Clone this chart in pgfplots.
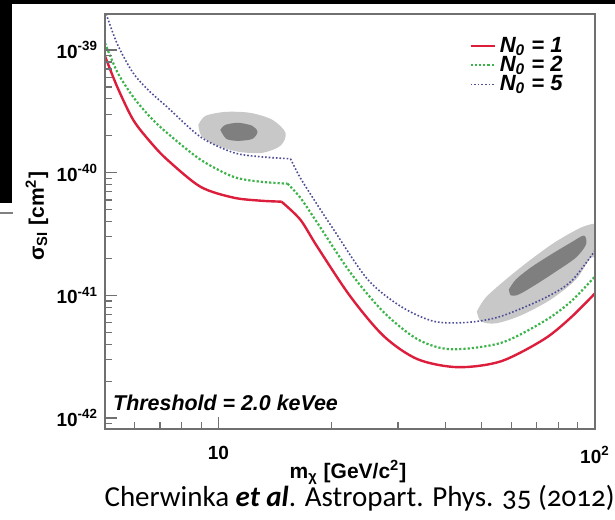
\documentclass[border=0pt]{standalone}
\usepackage{pgfplots}
\pgfplotsset{compat=1.18}
\usepackage{fontspec}
\setmainfont{Liberation Sans}
\newfontfamily\citefont[Numbers=OldStyle]{Carlito}

\definecolor{nred}{HTML}{DC1E3C}
\definecolor{ngreen}{HTML}{3CB44B}
\definecolor{nblue}{HTML}{4B4B96}
\definecolor{blobl}{HTML}{C8C8C8}
\definecolor{blobd}{HTML}{7F7F7F}
\definecolor{framec}{HTML}{707070}

\begin{document}
\begin{tikzpicture}
\path[use as bounding box] (-52.5pt,-45pt) rectangle (255pt,214.5pt);
\begin{axis}[
    at={(0,0)}, anchor=south west,
    scale only axis, width=245pt, height=207.5pt,
    xmode=log, ymode=log,
    xmin=5, xmax=100, ymin=8.14e-43, ymax=1.966e-39,
    axis on top,
    axis line style={framec, line width=0.9pt},
    tick align=inside, xtick pos=bottom, ytick pos=left,
    major tick length=6pt, minor tick length=3.5pt,
    every tick/.style={framec, line width=0.6pt},
    xtick={10,100},
    xticklabels={\textbf{10},\textbf{10\textsuperscript{2}}},
    minor xtick={6,7,8,9,20,30,40,50,60,70,80,90},
    ytick={1e-42,1e-41,1e-40,1e-39},
    yticklabels={\textbf{10\textsuperscript{-42}},\textbf{10\textsuperscript{-41}},\textbf{10\textsuperscript{-40}},\textbf{10\textsuperscript{-39}}},
    minor ytick={9e-43,2e-42,3e-42,4e-42,5e-42,6e-42,7e-42,8e-42,9e-42,
                 2e-41,3e-41,4e-41,5e-41,6e-41,7e-41,8e-41,9e-41,
                 2e-40,3e-40,4e-40,5e-40,6e-40,7e-40,8e-40,9e-40},
    tick label style={font=\fontsize{9.5}{11}\selectfont},
    xticklabel style={yshift=-5pt},
    xlabel={\bfseries m\textsubscript{χ} [GeV/c\textsuperscript{2}]},
    ylabel={\bfseries σ\textsubscript{SI} [cm\textsuperscript{2}]},
    label style={font=\fontsize{10.5}{12}\selectfont},
    xlabel style={at={(axis description cs:0.496,-0.104)}, anchor=center},
    ylabel style={at={(axis description cs:-0.139,0.513)}, anchor=center},
    legend style={draw=none, fill=none, at={(axis description cs:0.955,0.965)},
        anchor=north east, font=\fontsize{11}{12}\selectfont\bfseries\itshape,
        row sep=-3.5pt, cells={anchor=west}},
    legend image code/.code={\draw[#1] (0pt,0pt) -- (12pt,0pt);},
]
% allowed regions
\addplot[fill=blobl, draw=none, smooth, forget plot] coordinates {
  (8.85,2.455e-40) (9.235,2.904e-40) (10.44,3.133e-40) (12.16,3.076e-40)
  (13.92,2.698e-40) (15.08,2.113e-40) (14.62,1.660e-40) (13.09,1.455e-40)
  (11.30,1.483e-40) (9.82,1.690e-40) (9.01,2.0e-40) (8.85,2.455e-40)} -- cycle;
\addplot[fill=blobd, draw=none, smooth, forget plot] coordinates {
  (10.12,2.239e-40) (10.44,2.455e-40) (11.30,2.553e-40) (12.31,2.410e-40)
  (12.70,2.153e-40) (12.31,1.888e-40) (11.30,1.820e-40) (10.50,1.888e-40)
  (10.12,2.239e-40)} -- cycle;
\addplot[fill=blobl, draw=none, smooth, forget plot] coordinates {
  (48.56,7.41e-42) (51.31,9.64e-42) (57.99,1.349e-41) (67.57,1.963e-41)
  (78.78,2.748e-41) (91.80,3.573e-41) (100,3.85e-41) (104,3.7e-41)
  (104,2.0e-41) (97.59,2.037e-41) (89.03,1.349e-41) (76.38,9.27e-42)
  (63.56,6.87e-42) (54.55,5.92e-42) (49.77,6.15e-42) (48.56,7.41e-42)} -- cycle;
\addplot[fill=blobd, draw=none, smooth, forget plot] coordinates {
  (59.06,1.119e-41) (61.66,1.349e-41) (67.57,1.690e-41) (76.38,2.153e-41)
  (86.35,2.698e-41) (93.48,3.076e-41) (94.64,2.600e-41) (89.03,2.037e-41)
  (78.78,1.567e-41) (69.67,1.227e-41) (62.80,1.019e-41) (59.79,1.0e-41)
  (59.06,1.119e-41)} -- cycle;

% N0 = 1
\addplot[nred, line width=1.2pt, smooth] coordinates {
  (5.0,8.93e-40) (5.39,5.0e-40) (5.94,2.70e-40) (6.59,1.79e-40) (7.31,1.28e-40)
  (8.96,7.69e-41) (10.96,6.27e-41) (12.93,5.92e-41) (14.71,5.81e-41)};
\addlegendentry{N\textsubscript{0} = 1}
\addplot[nred, line width=1.2pt, smooth, forget plot] coordinates {
  (14.71,5.81e-41) (16.5,4.15e-41) (18.3,2.50e-41) (22.4,9.82e-42) (27.5,4.65e-42)
  (33.8,3.02e-42) (43.2,2.60e-42) (56.2,2.90e-42) (73.2,4.39e-42) (86.35,6.62e-42)
  (100,1.04e-41)};
% N0 = 2
\addplot[ngreen, line width=1.1pt, densely dotted, smooth] coordinates {
  (5,1.14e-39) (5.39,6.62e-40) (5.94,4.15e-40) (6.59,2.85e-40) (7.31,2.11e-40)
  (8.96,1.28e-40) (10.96,9.27e-41) (12.93,8.45e-41) (15.26,8.15e-41)};
\addlegendentry{N\textsubscript{0} = 2}
\addplot[ngreen, line width=1.1pt, densely dotted, smooth, forget plot] coordinates {
  (15.26,8.15e-41) (16.5,6.27e-41) (18.3,3.92e-41) (22.4,1.54e-41) (27.5,7.28e-42)
  (33.8,4.39e-42) (41.4,3.64e-42) (56.2,4.1e-42) (73.2,6.15e-42)
  (86.35,8.93e-42) (100,1.43e-41)};
% N0 = 5
\addplot[nblue, line width=0.8pt, densely dotted, smooth] coordinates {
  (5,2.1e-39) (5.39,1.12e-39) (5.94,6.50e-40) (6.59,4.56e-40) (7.31,3.44e-40)
  (8.96,1.96e-40) (10.96,1.46e-40) (12.93,1.35e-40) (15.54,1.30e-40)};
\addlegendentry{N\textsubscript{0} = 5}
\addplot[nblue, line width=0.8pt, densely dotted, smooth, forget plot] coordinates {
  (15.54,1.30e-40) (16.5,9.10e-41) (18.3,5.50e-41) (20.23,3.44e-41) (24.91,1.35e-41)
  (30.48,8.15e-42) (37.32,6.15e-42) (45.93,6.03e-42) (56.2,6.75e-42) (73.2,9.46e-42)
  (86.35,1.30e-41) (100,2.32e-41)};

\node[anchor=west, inner sep=0pt, font=\fontsize{10.7}{12}\selectfont\bfseries\itshape]
  at (axis description cs:0.016,0.063) {Threshold = 2.0 keVee};
\end{axis}
% screenshot border
\fill[black] (-52.5pt,212.5pt) rectangle (255pt,214.5pt);
\fill[black] (-52.5pt,113pt) rectangle (-46.5pt,214.5pt);
\draw[gray, line width=0.8pt] (-52.5pt,108pt) -- (-46pt,108pt);
\node[anchor=east, font=\citefont\fontsize{14.5}{16}\selectfont, inner sep=0pt]
  at (255pt,-34.5pt) {Cherwinka \textbf{\textit{et al}}. Astropart. Phys. 35 (2012)};
\end{tikzpicture}
\end{document}
